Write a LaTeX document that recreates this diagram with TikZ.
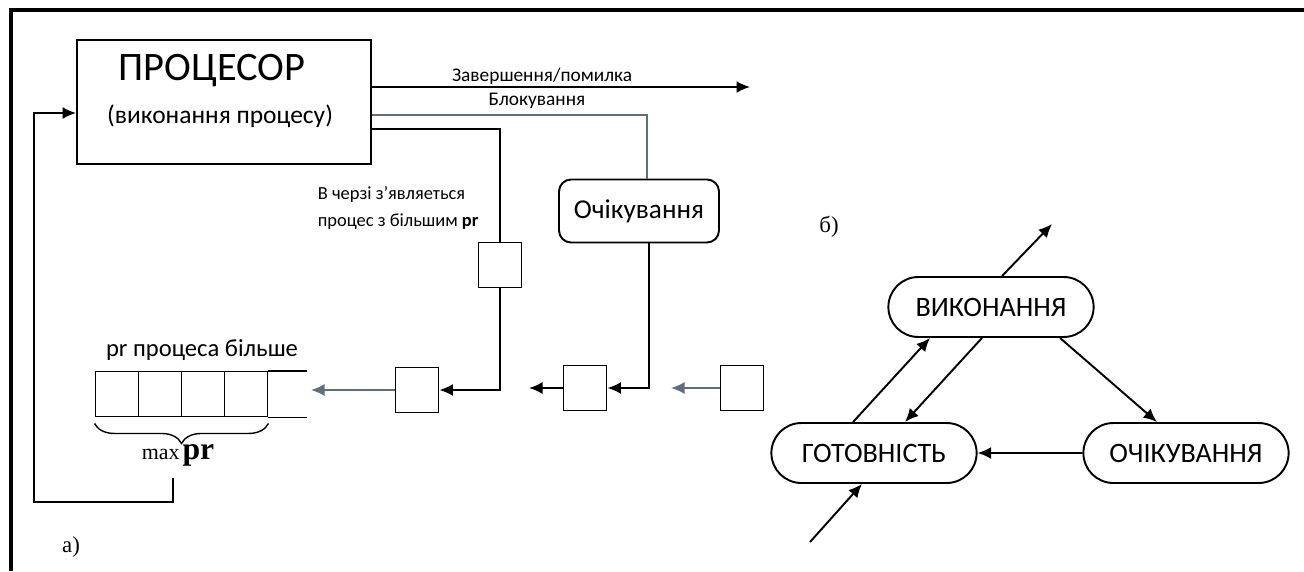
\documentclass[tikz,border=0pt]{standalone}
\usepackage{fontspec}
\setmainfont{Carlito}
\newfontfamily\serifcyr{Liberation Serif}
\usepackage{tikz}
\usetikzlibrary{arrows.meta, calc, shapes.misc, decorations.pathreplacing}
\definecolor{BlueGray}{RGB}{95,110,125}

\begin{document}
\begin{tikzpicture}[x=0.02cm, y=-0.02cm, line width=1.1pt,
	>={Latex[length=2.7mm,width=2.4mm]},
	sq/.style={draw, minimum width=0.86cm, minimum height=0.9cm, inner sep=0pt},
	state/.style={draw, rounded rectangle, minimum width=4.34cm, minimum height=1.2cm, font=\fontsize{16}{19}\selectfont},
	lbl/.style={font=\fontsize{11}{15}\selectfont}]
	\useasboundingbox (0,0) rectangle (1304,571);
	\draw[line width=2.4pt] (11,571) -- (11,10) -- (1304,10);
	% processor
	\node[draw, minimum width=5.88cm, minimum height=2.48cm] (cpu) at (224,102) {};
	\node[font=\fontsize{23}{27}\selectfont] (cpuname) at (212,71) {ПРОЦЕСОР};
	\node[font=\fontsize{14.5}{17}\selectfont] (cpujob) at (220,116) {(виконання процесу)};
	\node[draw, rounded corners=0.24cm, minimum width=3.2cm, minimum height=1.26cm, font=\fontsize{15.5}{18}\selectfont] (wait) at (639,211) {Очікування};
	\node[sq] (sq1) at (500,265) {};
	\node[sq] (sqA) at (417,390) {};
	\node[sq] (sqB) at (585,388) {};
	\node[sq] (sqC) at (742,388) {};
	\node[lbl, font=\fontsize{10.5}{15}\selectfont, align=left, anchor=west] (newproc) at (311,208) {В черзі з'являеться\\процес з більшим \textbf{pr}};
	% queue
	\foreach \i in {0,...,3}
	  \node[sq] (q\i) at (117+\i*43,394) {};
	\coordinate (qend) at (307,394);
	\draw (q3.north east) -- (q3.north east -| qend);
	\draw (q3.south east) -- (q3.south east -| qend);
	\node[font=\fontsize{14}{16}\selectfont] (qlabel) at (202,350) {pr процеса більше};
	\draw[line width=0.8pt, decorate, decoration={brace, mirror, amplitude=0.4cm}] ($(q0.south west)+(0,6)$) -- ($(q3.south east)+(0,6)$);
	\node[font=\serifcyr] (maxpr) at (178,455) {{\fontsize{12.5}{14}\selectfont max}\,{\fontsize{18}{20}\selectfont\bfseries pr}};
	% connectors
	\coordinate (fb) at (173,478);
	\draw[->] (fb) -- ++(0,24) -| ($(cpu.west)+(-42,11)$) -- ($(cpu.west)+(0,11)$);
	\coordinate (done) at (750,87);
	\draw[->] (cpu.east |- done) -- node[lbl, above, pos=0.45, inner sep=1pt] {Завершення/помилка} (done);
	\draw[BlueGray] ($(cpu.east)+(0,13)$) -| node[lbl, above, pos=0.3, text=black] {Блокування} ($(wait.north)+(8,0)$);
	\draw ($(cpu.east)+(0,27)$) -| (sq1.north);
	\draw[->] (sq1.south) |- (sqA.east);
	\coordinate (qin) at (311,390);
	\draw[->, BlueGray] (sqA) -- (qin);
	\draw[->] ($(wait.south)+(10,0)$) |- (sqB.east);
	\coordinate (bin) at (529,388);
	\draw[->] (sqB) -- (bin);
	\coordinate (cin) at (671,388);
	\draw[->, BlueGray] (sqC) -- (cin);
	\node[font=\serifcyr\fontsize{13}{15}\selectfont] (parta) at (71,547) {а)};
	% states
	\node[font=\serifcyr\fontsize{13}{15}\selectfont] (partb) at (829,227) {б)};
	\node[state] (run) at (991,307) {ВИКОНАННЯ};
	\node[state] (ready) at (874,453) {ГОТОВНІСТЬ};
	\node[state] (block) at (1186,453) {ОЧІКУВАННЯ};
	\draw[->] ($(run.north)+(11,0)$) -- ++(50,-52);
	\draw[->] ($(ready.north)+(-21,0)$) -- ($(run.south)+(-61,0)$);
	\draw[->] ($(run.south)+(-9,0)$) -- ($(ready.north)+(31,0)$);
	\draw[->] ($(run.south)+(69,0)$) -- ($(block.north)+(-29,0)$);
	\draw[->] (block) -- (ready);
	\coordinate (newin) at (810,542);
	\draw[->] (newin) -- ($(ready.south)+(-12,0)$);
\end{tikzpicture}
\end{document}
